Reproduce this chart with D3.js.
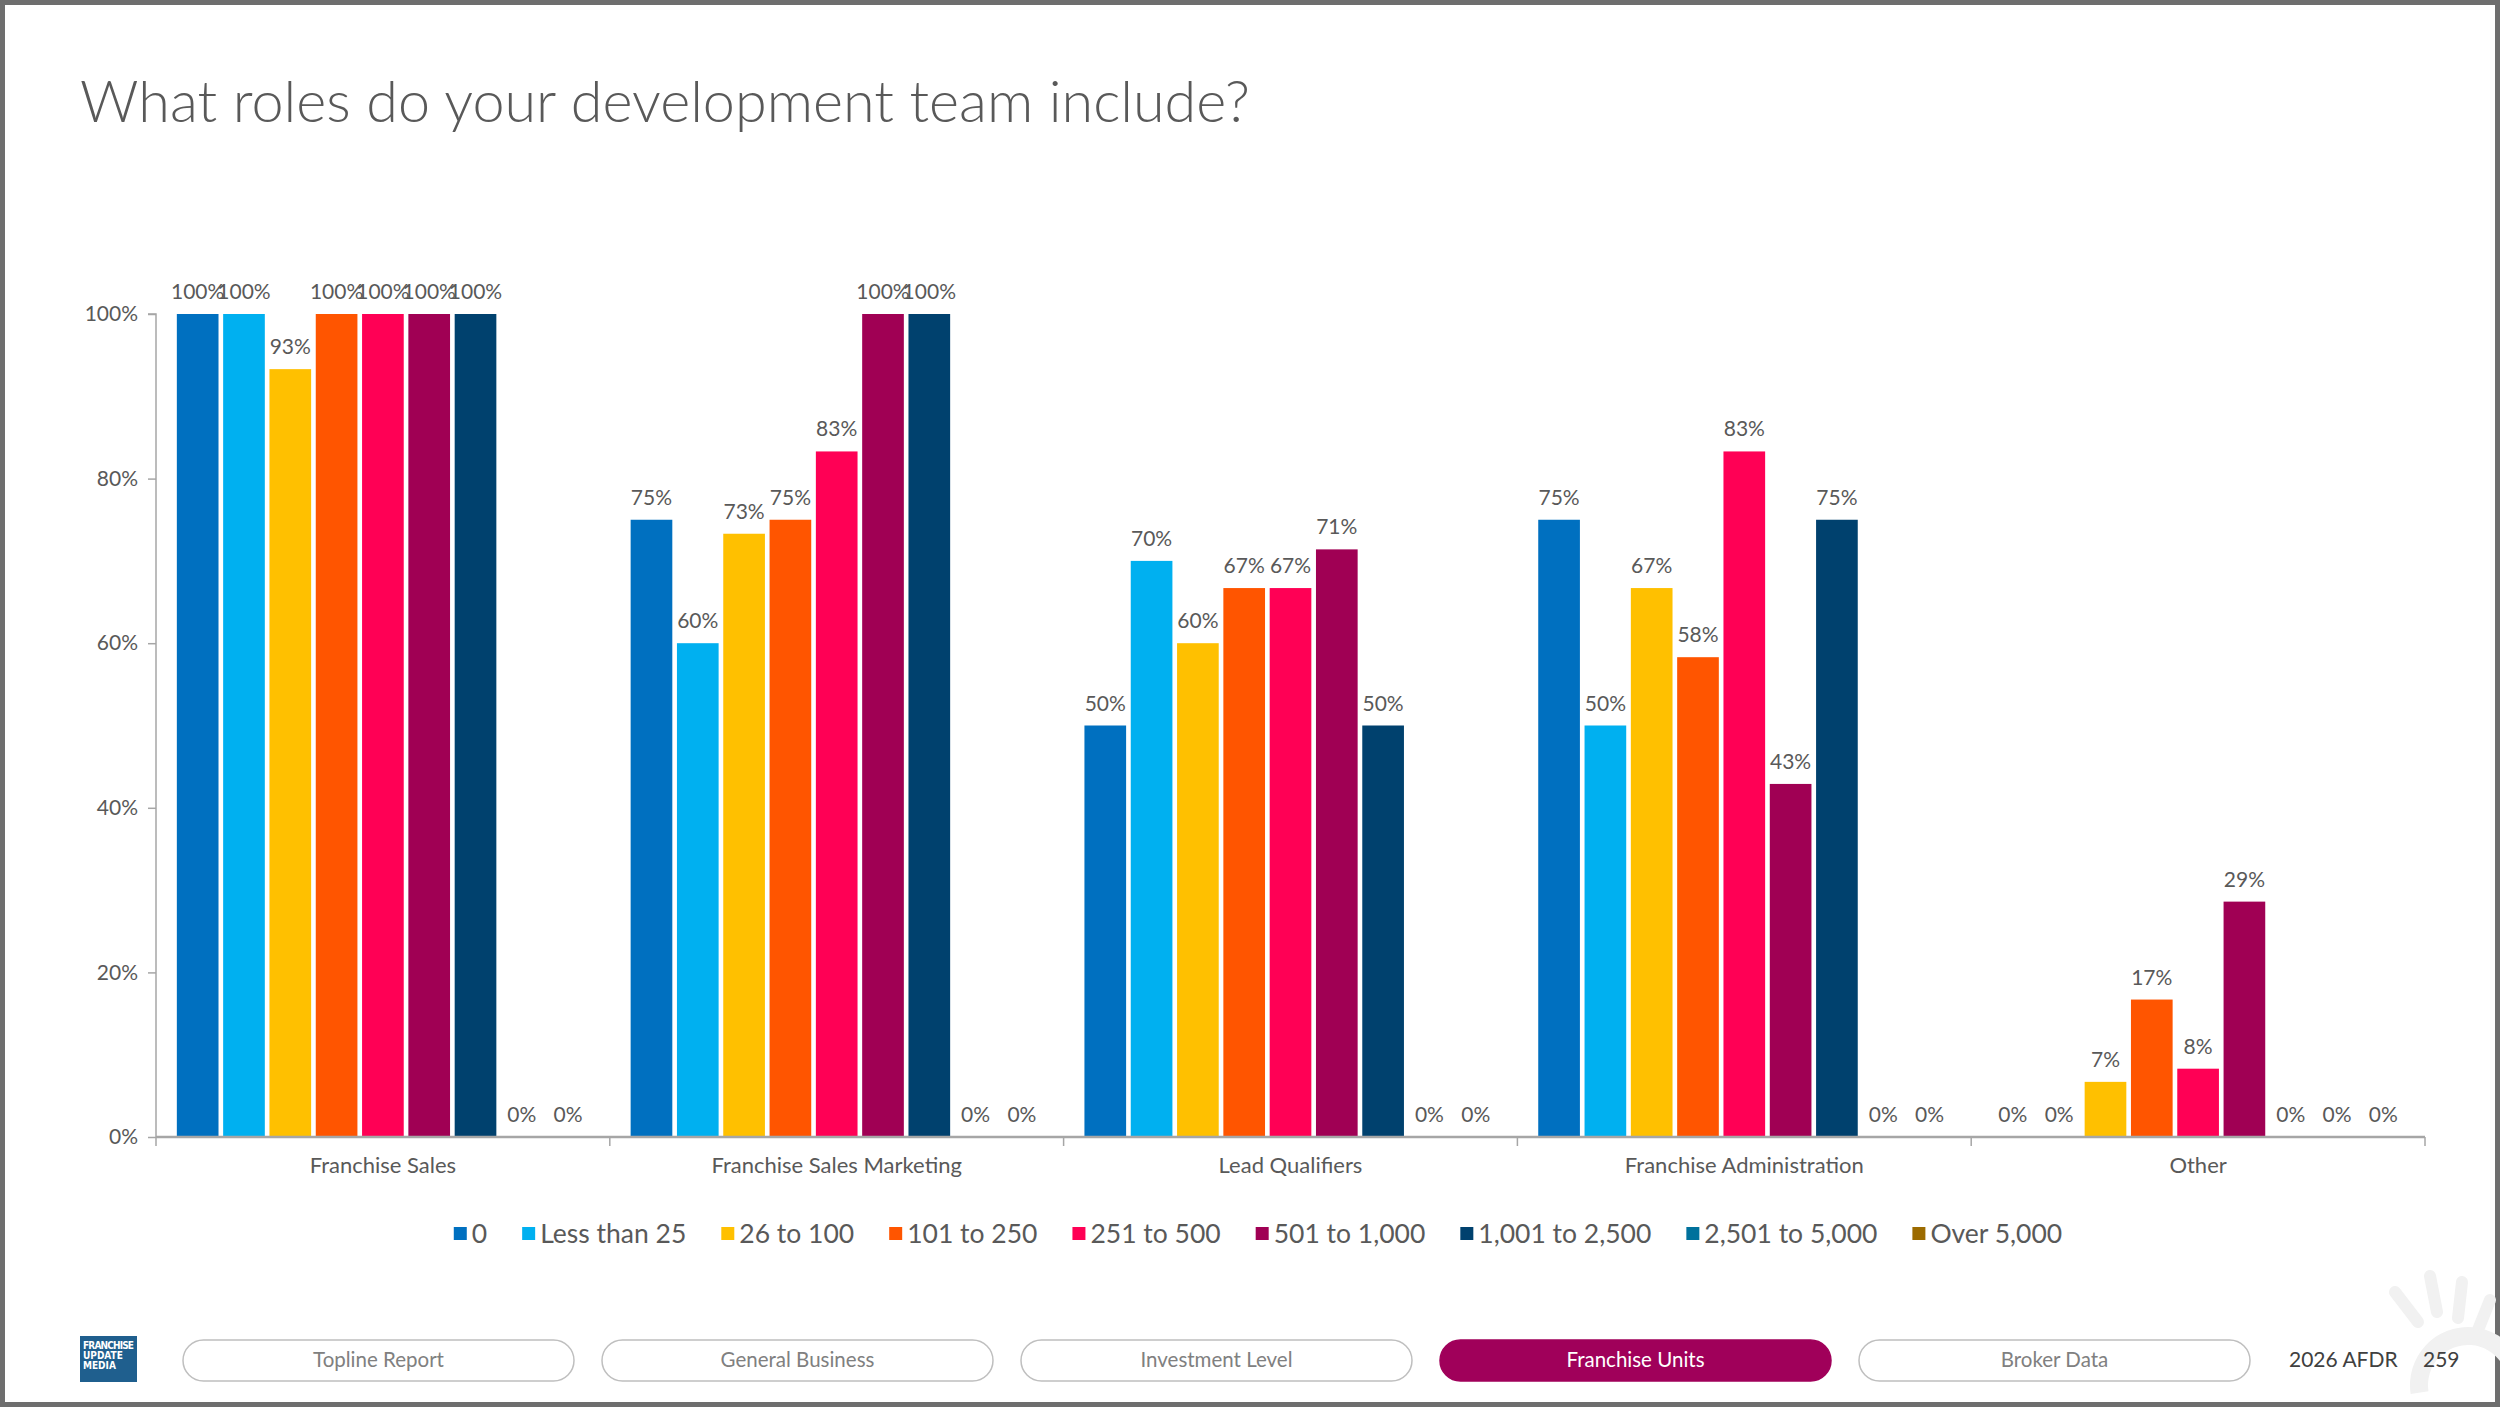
<!DOCTYPE html>
<html>
<head>
<meta charset="utf-8">
<script src="https://cdn.jsdelivr.net/npm/d3@7"></script>
<style>
  body { margin: 0; background: #ffffff; }
  svg { display: block; font-family: "Lato", "Noto Sans", sans-serif; }
</style>
</head>
<body>
<svg id="chart" width="2500" height="1407"></svg>
<script>
// dati del grafico
const categories = ["Franchise Sales", "Franchise Sales Marketing", "Lead Qualifiers", "Franchise Administration", "Other"];
const seriesNames = ["0", "Less than 25", "26 to 100", "101 to 250", "251 to 500", "501 to 1,000", "1,001 to 2,500", "2,501 to 5,000", "Over 5,000"];
const seriesColors = ["#0070C0", "#00B0F0", "#FFC000", "#FF5500", "#FF0055", "#A00054", "#00416E", "#00719C", "#9C6B00"];

// valori in % per ogni categoria (una voce per serie)
const franchiseSales = [100, 100, 93.3, 100, 100, 100, 100, 0, 0];
const franchiseSalesMarketing = [75, 60, 73.3, 75, 83.3, 100, 100, 0, 0];
const leadQualifiers = [50, 70, 60, 66.7, 66.7, 71.4, 50, 0, 0];
const franchiseAdministration = [75, 50, 66.7, 58.3, 83.3, 42.9, 75, 0, 0];
const other = [0, 0, 6.7, 16.7, 8.3, 28.6, 0, 0, 0];

const yTicks = [0, 20, 40, 60, 80, 100];
const navTabs = ["Topline Report", "General Business", "Investment Level", "Franchise Units", "Broker Data"];
const activeTab = "Franchise Units";

const values = [franchiseSales, franchiseSalesMarketing, leadQualifiers, franchiseAdministration, other];
const data = categories.map((c, i) => ({
  category: c,
  bars: seriesNames.map((s, j) => ({ key: s, value: values[i][j] }))
}));

const svg = d3.select("#chart");

// cornice
svg.append("rect")
  .attr("x", 2.5).attr("y", 2.5)
  .attr("width", 2495).attr("height", 1402)
  .attr("fill", "#ffffff")
  .attr("stroke", "#6e6e6e")
  .attr("stroke-width", 5);

// decorazione in basso a destra
const deco = svg.append("g").attr("stroke", "#f1f1f1").attr("stroke-linecap", "round").attr("fill", "none");
[[2395, 1292, 2418, 1322], [2430, 1276, 2437, 1312], [2462, 1282, 2458, 1318], [2490, 1300, 2478, 1330]]
  .forEach(l => deco.append("line").attr("x1", l[0]).attr("y1", l[1]).attr("x2", l[2]).attr("y2", l[3]).attr("stroke-width", 12));
deco.append("path")
  .attr("d", d3.arc()({ innerRadius: 40, outerRadius: 58, startAngle: -Math.PI * 0.55, endAngle: Math.PI * 0.6 }))
  .attr("transform", "translate(2468,1385)")
  .attr("fill", "#f1f1f1").attr("stroke", "none");

// titolo
svg.append("text")
  .attr("x", 80)
  .attr("y", 122)
  .attr("font-size", 57.5)
  .attr("font-weight", 300)
  .attr("fill", "#595959")
  .text("What roles do your development team include?");

// area del grafico
const plot = { left: 156, right: 2425, top: 314, bottom: 1137 };

const x0 = d3.scaleBand()
  .domain(categories)
  .range([plot.left, plot.right])
  .padding(0);

const x1 = d3.scaleBand()
  .domain(seriesNames)
  .range([0, x0.bandwidth()])
  .paddingInner(0.1)
  .paddingOuter(0.45);

const y = d3.scaleLinear()
  .domain([0, 100])
  .range([plot.bottom, plot.top]);

const color = d3.scaleOrdinal().domain(seriesNames).range(seriesColors);

// asse Y
const yAxis = svg.append("g")
  .attr("transform", `translate(${plot.left},0)`)
  .call(d3.axisLeft(y).tickValues(yTicks).tickSize(8).tickPadding(10).tickFormat(d => d + "%"));
yAxis.select(".domain").attr("stroke", "#a6a6a6").attr("stroke-width", 1.5).attr("d", `M-8,${plot.top}H0V${plot.bottom}`);
yAxis.selectAll(".tick line").attr("stroke", "#a6a6a6").attr("stroke-width", 1.5);
yAxis.selectAll(".tick text").attr("font-size", 21).attr("fill", "#595959").attr("font-family", "Lato, sans-serif");

// barre
const groups = svg.selectAll("g.bar-group")
  .data(data)
  .join("g")
  .attr("class", "bar-group")
  .attr("transform", d => `translate(${x0(d.category)},0)`);

groups.selectAll("rect")
  .data(d => d.bars)
  .join("rect")
  .attr("x", d => x1(d.key))
  .attr("y", d => y(d.value))
  .attr("width", x1.bandwidth())
  .attr("height", d => y(0) - y(d.value))
  .attr("fill", d => color(d.key));

groups.selectAll("text")
  .data(d => d.bars)
  .join("text")
  .attr("x", d => x1(d.key) + x1.bandwidth() / 2)
  .attr("y", d => y(d.value) - 15)
  .attr("text-anchor", "middle")
  .attr("font-size", 21)
  .attr("fill", "#595959")
  .text(d => Math.round(d.value) + "%");

// asse X
const boundaries = categories.map(c => x0(c)).concat([plot.right]);
const xAxis = svg.append("g");
xAxis.append("line")
  .attr("x1", plot.left).attr("x2", plot.right)
  .attr("y1", plot.bottom).attr("y2", plot.bottom)
  .attr("stroke", "#a6a6a6").attr("stroke-width", 2.5);
xAxis.selectAll("line.sep")
  .data(boundaries)
  .join("line")
  .attr("class", "sep")
  .attr("x1", d => d).attr("x2", d => d)
  .attr("y1", plot.bottom).attr("y2", plot.bottom + 9)
  .attr("stroke", "#a6a6a6").attr("stroke-width", 1.5);
xAxis.selectAll("text")
  .data(categories)
  .join("text")
  .attr("x", d => x0(d) + x0.bandwidth() / 2)
  .attr("y", 1173)
  .attr("text-anchor", "middle")
  .attr("font-size", 22)
  .attr("fill", "#595959")
  .text(d => d);

// leggenda
const legend = svg.append("g").attr("class", "legend");
const items = legend.selectAll("g")
  .data(seriesNames)
  .join("g");
items.append("rect")
  .attr("y", -7)
  .attr("width", 13)
  .attr("height", 13)
  .attr("fill", d => color(d));
items.append("text")
  .attr("x", 18)
  .attr("y", 9)
  .attr("font-size", 26.5)
  .attr("fill", "#595959")
  .text(d => d);
let lx = 0;
items.each(function () {
  const g = d3.select(this);
  g.attr("transform", `translate(${lx},0)`);
  lx += 18 + g.select("text").node().getComputedTextLength() + 35;
});
lx -= 35;
legend.attr("transform", `translate(${1258 - lx / 2},1234)`);

// barra di navigazione
const logo = svg.append("g").attr("transform", "translate(80,1336)");
logo.append("rect").attr("width", 57).attr("height", 46).attr("fill", "#1f5f8e");
["FRANCHISE", "UPDATE", "MEDIA"].forEach((t, i) => {
  logo.append("text")
    .attr("x", 3)
    .attr("y", 13 + i * 10)
    .attr("font-size", 10)
    .attr("font-weight", "bold")
    .attr("font-family", "Liberation Sans Narrow, DejaVu Sans Condensed, sans-serif")
    .attr("fill", "#ffffff")
    .attr("textLength", i === 0 ? 51 : null)
    .text(t);
});

const nav = svg.append("g");
const pills = nav.selectAll("g")
  .data(navTabs)
  .join("g")
  .attr("transform", (d, i) => `translate(${183 + i * 419},1340)`);
pills.append("rect")
  .attr("width", 391)
  .attr("height", 41)
  .attr("rx", 20.5)
  .attr("fill", d => d === activeTab ? "#a0005a" : "#ffffff")
  .attr("stroke", d => d === activeTab ? "#a0005a" : "#bfbfbf")
  .attr("stroke-width", 1.5);
pills.append("text")
  .attr("x", 195.5)
  .attr("y", 27)
  .attr("text-anchor", "middle")
  .attr("font-size", 20.5)
  .attr("fill", d => d === activeTab ? "#ffffff" : "#808080")
  .text(d => d);

svg.append("text")
  .attr("x", 2289).attr("y", 1367)
  .attr("font-size", 21)
  .attr("fill", "#404040")
  .text("2026 AFDR");
svg.append("text")
  .attr("x", 2423).attr("y", 1367)
  .attr("font-size", 21)
  .attr("fill", "#404040")
  .text("259");
</script>
</body>
</html>
